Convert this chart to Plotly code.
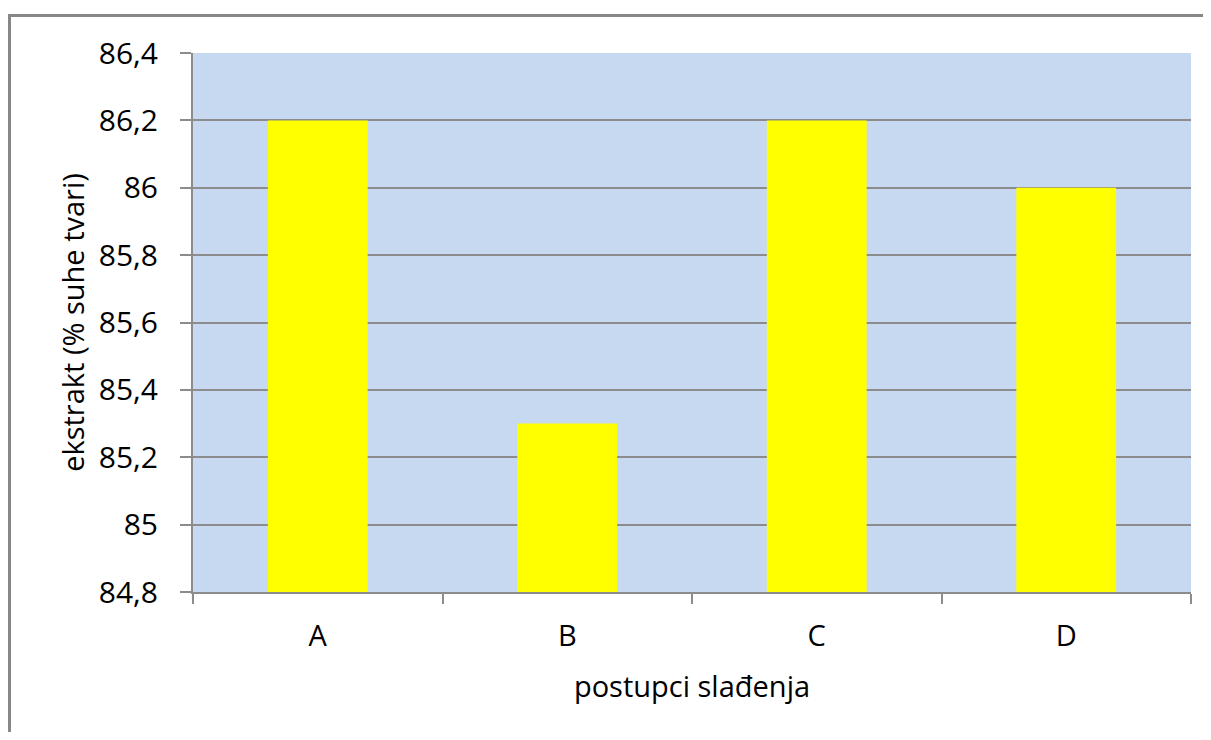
import plotly.graph_objects as go

categories = ["A", "B", "C", "D"]
values = [86.2, 85.3, 86.2, 86.0]
y_tick_vals = [84.8, 85.0, 85.2, 85.4, 85.6, 85.8, 86.0, 86.2, 86.4]
y_tick_text = ["84,8", "85", "85,2", "85,4", "85,6", "85,8", "86", "86,2", "86,4"]

FONT = "Open Sans"
GRAY = "#8c8c8c"

fig = go.Figure()
fig.add_trace(go.Bar(
    x=categories, y=values,
    marker=dict(color="#FFFF00", line=dict(width=0)),
    width=0.4,
))

fig.update_layout(
    width=1195, height=724,
    margin=dict(l=185, r=12, t=45, b=140),
    paper_bgcolor="white",
    plot_bgcolor="#C6D9F1",
    showlegend=False,
    font=dict(family=FONT, size=29, color="#000000"),
    xaxis=dict(
        type="category",
        tickson="boundaries",
        ticks="outside", ticklen=10, tickwidth=2, tickcolor=GRAY,
        showline=True, linecolor=GRAY, linewidth=2,
        showgrid=False,
        tickfont=dict(size=29),
        ticklabelstandoff=17,
        title=dict(text="postupci slađenja", font=dict(size=29), standoff=24),
    ),
    yaxis=dict(
        range=[84.8, 86.4],
        tickvals=y_tick_vals, ticktext=y_tick_text,
        ticks="outside", ticklen=11, tickwidth=2, tickcolor=GRAY,
        showline=True, linecolor=GRAY, linewidth=2,
        showgrid=True, gridcolor=GRAY, gridwidth=1.5,
        zeroline=False,
        tickfont=dict(size=30),
        ticklabelstandoff=16,
        title=dict(text="ekstrakt (% suhe tvari)", font=dict(size=29), standoff=6),
    ),
    shapes=[
        dict(type="rect", xref="paper", yref="paper",
             x0=(1.5 - 185) / 998, x1=1.2,
             y0=-0.5, y1=(584 - 7.5) / 539,
             line=dict(color="#878787", width=3), fillcolor="rgba(0,0,0,0)",
             layer="below"),
    ],
)

fig.write_html("out.html")
